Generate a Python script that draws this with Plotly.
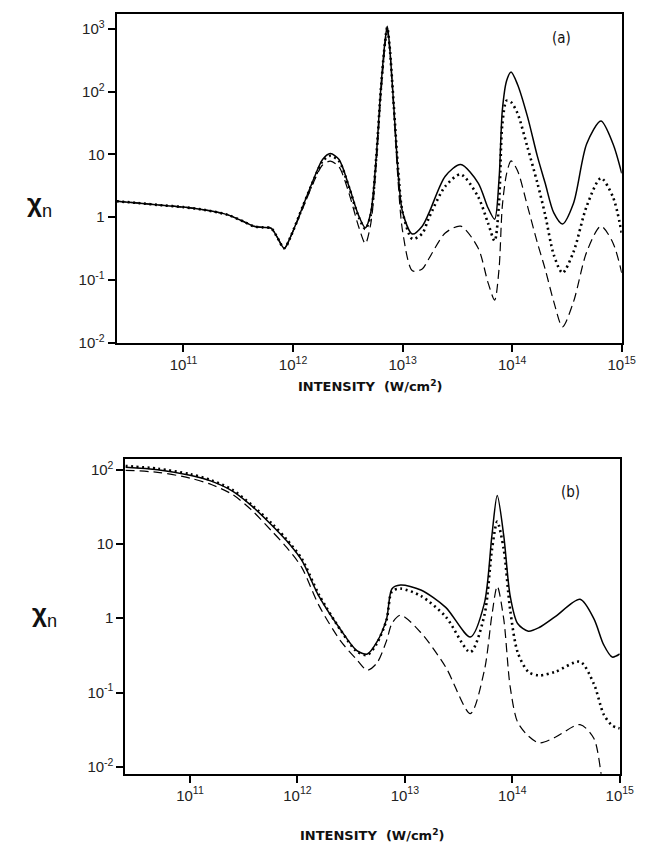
import plotly.graph_objects as go

# ---------------- Panel (a) data ----------------
intensity_a = [2.45e10, 4.0e10, 6.3e10, 1.0e11, 1.58e11, 2.5e11, 3.55e11, 4.37e11, 5.25e11, 6.3e11,
               7.08e11, 8.32e11, 9.55e11, 1.23e12, 1.58e12, 1.86e12, 2.19e12, 2.63e12, 3.24e12, 3.98e12,
               4.57e12, 5.13e12, 5.75e12, 6.31e12, 6.92e12, 7.24e12, 7.59e12, 8.32e12, 9.12e12, 1.0e13,
               1.23e13, 1.51e13, 1.74e13, 2.45e13, 3.39e13, 4.9e13, 6.03e13, 6.92e13, 7.59e13, 8.13e13,
               8.91e13, 9.77e13, 1.12e14, 1.38e14, 1.7e14, 2.0e14, 2.4e14, 2.88e14, 3.63e14, 4.79e14,
               6.46e14, 8.32e14, 1.0e15]
chi_a_solid = [1.8, 1.67, 1.55, 1.45, 1.3, 1.1, 0.85, 0.72, 0.69, 0.67,
               0.5, 0.32, 0.5, 1.5, 4.5, 8.3, 10.3, 8.3, 3.1, 1.05,
               0.68, 1.2, 9.3, 105, 650, 1100, 560, 56, 5.0, 1.2,
               0.54, 0.72, 1.17, 4.5, 6.9, 3.5, 1.4, 0.93, 4.0, 50,
               150, 205, 130, 40, 9.3, 3.5, 1.17, 0.78, 1.67, 14.8,
               34, 14.8, 5.0]
chi_a_dotted = [1.8, 1.67, 1.55, 1.45, 1.3, 1.1, 0.85, 0.72, 0.69, 0.67,
                0.5, 0.32, 0.5, 1.5, 4.3, 7.8, 9.5, 7.8, 3.0, 1.0,
                0.65, 1.1, 9.0, 100, 620, 1050, 560, 58, 5.5, 1.2,
                0.45, 0.55, 0.98, 3.1, 4.8, 2.1, 0.8, 0.42, 1.7, 30,
                72, 68, 45, 13, 3.5, 1.1, 0.25, 0.13, 0.28, 1.5,
                4.2, 2.1, 0.56]
chi_a_dashed = [1.8, 1.67, 1.55, 1.45, 1.3, 1.1, 0.85, 0.72, 0.69, 0.67,
                0.5, 0.32, 0.5, 1.4, 4.0, 6.8, 7.8, 6.3, 2.4, 0.7,
                0.38, 0.8, 7.0, 80, 550, 950, 520, 50, 3.5, 0.6,
                0.14, 0.15, 0.22, 0.56, 0.72, 0.32, 0.09, 0.048, 0.15, 1.5,
                5.0, 7.9, 5.5, 1.5, 0.39, 0.15, 0.045, 0.018, 0.045, 0.28,
                0.72, 0.39, 0.13]

# ---------------- Panel (b) data ----------------
intensity_b = [2.51e10, 5.01e10, 1.0e11, 1.58e11, 2.51e11, 3.8e11, 5.75e11, 7.94e11, 1.1e12, 1.58e12,
               2.51e12, 3.55e12, 4.47e12, 5.5e12, 6.76e12, 7.59e12, 9.12e12, 1.41e13, 2.4e13, 4.07e13,
               5.5e13, 6.46e13, 7.24e13, 8.32e13, 9.55e13, 1.12e14, 1.41e14, 1.78e14, 2.51e14, 4.27e14,
               5.75e14, 7.08e14, 8.51e14, 1.0e15]
chi_b_solid = [108, 100, 84, 70, 51, 32, 18, 11, 6.0, 2.0,
               0.71, 0.37, 0.33, 0.48, 0.98, 2.5, 2.8, 2.4, 1.4, 0.56,
               1.6, 13, 45, 13, 2.0, 0.85, 0.67, 0.75, 1.05, 1.8,
               0.98, 0.44, 0.30, 0.33]
chi_b_dotted = [112, 103, 87, 72, 53, 33, 19, 11.5, 6.3, 2.1,
                0.70, 0.36, 0.32, 0.46, 0.95, 2.3, 2.5, 2.0, 1.05, 0.35,
                1.1, 8.3, 20, 8.5, 1.3, 0.35, 0.19, 0.17, 0.19, 0.26,
                0.13, 0.051, 0.036, 0.033]
chi_b_dashed = [98, 92, 77, 63, 46, 28, 15, 9.0, 4.8, 1.5,
                0.5, 0.28, 0.20, 0.25, 0.5, 0.85, 1.1, 0.64, 0.22, 0.052,
                0.2, 1.1, 2.7, 0.98, 0.12, 0.04, 0.026, 0.021, 0.025, 0.037,
                0.024, 0.005, 0.002, 0.001]

x_tickvals = [1e11, 1e12, 1e13, 1e14, 1e15]
x_ticktext = ["10<sup>11</sup>", "10<sup>12</sup>", "10<sup>13</sup>", "10<sup>14</sup>", "10<sup>15</sup>"]
ya_tickvals = [1e-2, 1e-1, 1, 10, 1e2, 1e3]
ya_ticktext = ["10<sup>-2</sup>", "10<sup>-1</sup>", "1", "10", "10<sup>2</sup>", "10<sup>3</sup>"]
yb_tickvals = [1e-2, 1e-1, 1, 10, 1e2]
yb_ticktext = ["10<sup>-2</sup>", "10<sup>-1</sup>", "1", "10", "10<sup>2</sup>"]

W, H = 661, 851
FONT = "Liberation Sans, Arial, sans-serif"

fig = go.Figure()

styles = [
    ("dashed", dict(color="black", width=1.2, dash="9px,5px")),
    ("dotted", dict(color="black", width=2.6, dash="2px,3.5px")),
    ("solid", dict(color="black", width=1.5)),
]
data_a = {"solid": chi_a_solid, "dotted": chi_a_dotted, "dashed": chi_a_dashed}
data_b = {"solid": chi_b_solid, "dotted": chi_b_dotted, "dashed": chi_b_dashed}

for name, ln in styles:
    fig.add_trace(go.Scatter(x=intensity_a, y=data_a[name], mode="lines",
                             line=dict(**ln, shape="spline", smoothing=0.8),
                             xaxis="x", yaxis="y", showlegend=False, hoverinfo="skip"))
for name, ln in styles:
    fig.add_trace(go.Scatter(x=intensity_b, y=data_b[name], mode="lines",
                             line=dict(**ln, shape="spline", smoothing=0.8),
                             xaxis="x2", yaxis="y2", showlegend=False, hoverinfo="skip"))

axis_common = dict(type="log", showgrid=False, zeroline=False, showline=True, mirror=True,
                   linecolor="black", linewidth=2, ticks="outside", ticklen=7, tickwidth=1.5,
                   tickcolor="black", tickfont=dict(family=FONT, size=15, color="#222"))

fig.update_layout(
    width=W, height=H,
    margin=dict(l=0, r=0, t=0, b=0),
    paper_bgcolor="white", plot_bgcolor="white",
    xaxis=dict(**axis_common, domain=[111 / W, 627 / W], range=[10.39, 15.0],
               tickvals=x_tickvals, ticktext=x_ticktext, anchor="y"),
    yaxis=dict(**axis_common, domain=[1 - 338 / H, 1 - 6 / H], range=[-2.0, 3.237],
               tickvals=ya_tickvals, ticktext=ya_ticktext, anchor="x"),
    xaxis2=dict(**axis_common, domain=[120 / W, 625 / W], range=[10.40, 15.0],
                tickvals=x_tickvals, ticktext=x_ticktext, anchor="y2"),
    yaxis2=dict(**axis_common, domain=[1 - 773 / H, 1 - 455 / H], range=[-2.093, 2.147],
                tickvals=yb_tickvals, ticktext=yb_ticktext, anchor="x2"),
)

title_font = dict(family="DejaVu Sans, sans-serif", size=13, color="#111")
for (xx, yy) in [(370, 382), (372, 835)]:
    fig.add_annotation(xref="paper", yref="paper", showarrow=False, xanchor="center", yanchor="middle",
                       x=xx / W, y=1 - yy / H, text="<b>INTENSITY  (W/cm<sup>2</sup>)</b>", font=title_font)
for (xx, yy) in [(32, 198), (37, 612)]:
    fig.add_annotation(xref="paper", yref="paper", showarrow=False, xanchor="center", yanchor="middle",
                       x=xx / W, y=1 - yy / H, text="<b>χ</b><sub>n</sub>",
                       font=dict(family=FONT, size=26, color="#111"))
label_font = dict(family="DejaVu Sans Condensed, Liberation Sans Narrow, sans-serif", size=15, color="#111")
fig.add_annotation(xref="paper", yref="paper", showarrow=False, xanchor="center", yanchor="middle",
                   x=565 / W, y=1 - 30 / H, text="(a)", font=label_font)
fig.add_annotation(xref="paper", yref="paper", showarrow=False, xanchor="center", yanchor="middle",
                   x=575 / W, y=1 - 489 / H, text="(b)", font=label_font)

fig.write_html("out.html")
